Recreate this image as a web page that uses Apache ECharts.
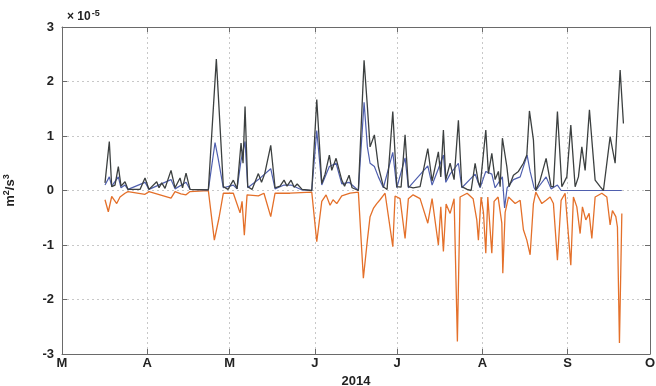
<!DOCTYPE html>
<html>
<head>
<meta charset="utf-8">
<script src="https://cdn.jsdelivr.net/npm/echarts@6/dist/echarts.min.js"></script>
<style>
  html, body { margin: 0; padding: 0; background: #fff; }
  #chart { width: 656px; height: 386px; }
</style>
</head>
<body>
<div id="chart"></div>
<script>
// x = days since 1 Mar 2014, values in units of 1e-5 m^2/s^3
var monthStart = [0, 31, 61, 92, 122, 153, 184, 214];
var monthLabels = ['M', 'A', 'M', 'J', 'J', 'A', 'S', 'O'];

var blackDay = [15.65, 17.22, 18.09, 19.29, 20.5, 21.48, 22.93, 24.03, 28.4, 30.21, 31.67, 34.47, 35.31, 36.29, 37.5, 39.68, 41.14, 42.96, 43.87, 45.14, 46.6, 53.26, 56.17, 58.72, 60.43, 62.36, 63.71, 65.16, 65.89, 66.62, 67.6, 69.17, 71.46, 72.62, 73.79, 75.97, 77.54, 79.36, 80.81, 81.9, 83.36, 84.5, 85.6, 87.37, 90.9, 92.72, 94.54, 95.74, 97.3, 98.18, 99.75, 101.82, 102.84, 104.48, 105.57, 107.86, 109.94, 111.14, 112.12, 113.69, 115.14, 116.96, 118.31, 120.39, 121.84, 123.41, 124.86, 126.06, 127.78, 130.32, 133.13, 134.69, 136.98, 137.86, 138.81, 139.68, 141.25, 142.7, 144.27, 145.51, 147.44, 148.9, 150.35, 151.55, 152.17, 154.24, 155.19, 156.43, 157.63, 158.83, 159.45, 160.28, 161.89, 162.72, 164.29, 166.11, 167.93, 169.17, 170.12, 171.57, 172.44, 174.01, 176.19, 177.03, 178.01, 178.85, 180.31, 181.91, 183.73, 185.18, 186.75, 187.95, 189.19, 190.39, 191.96, 192.83, 194.03, 195.85, 197.05, 199.49, 201.31, 203.13, 204.33];
var blackVal = [0.14, 0.9, 0.07, 0.1, 0.44, 0.08, 0.16, 0.02, 0.02, 0.23, 0.02, 0.16, 0.05, 0.14, 0.04, 0.37, 0.05, 0.23, 0.05, 0.32, 0.02, 0.01, 2.41, 0.07, 0.02, 0.19, 0.03, 0.87, 0.5, 1.54, 0.07, 0.02, 0.31, 0.15, 0.31, 0.83, 0.05, 0.08, 0.19, 0.08, 0.19, 0.06, 0.12, 0.02, 0.0, 1.67, 0.13, 0.3, 0.65, 0.37, 0.59, 0.19, 0.08, 0.28, 0.05, 0.0, 2.39, 1.54, 0.8, 1.02, 0.44, 0.07, 0.02, 1.45, 0.07, 0.06, 1.02, 0.07, 0.05, 0.07, 0.77, 0.17, 0.71, 0.25, 1.11, 0.2, 0.5, 0.2, 1.29, 0.07, 0.02, 0.0, 0.5, 0.15, 0.07, 1.11, 0.31, 0.68, 0.2, 0.35, 0.07, 0.96, 0.44, 0.07, 0.28, 0.35, 0.5, 0.65, 1.46, 0.93, 0.0, 0.19, 0.59, 0.35, 0.07, 0.07, 1.45, 0.07, 0.25, 1.2, 0.07, 0.25, 0.8, 0.37, 1.48, 0.93, 0.19, 0.07, 0.0, 0.99, 0.5, 2.21, 1.23];

var blueDay = [15.65, 17.22, 18.09, 20.5, 21.48, 22.93, 24.03, 30.21, 31.67, 39.68, 41.14, 45.14, 46.6, 53.26, 55.7, 56.79, 58.72, 62.36, 63.71, 65.16, 66.62, 67.6, 71.46, 75.97, 77.54, 80.81, 83.36, 87.37, 90.9, 92.72, 94.54, 97.3, 99.75, 101.82, 104.48, 107.86, 109.94, 111.14, 112.12, 113.69, 115.14, 116.96, 120.39, 121.84, 124.86, 126.06, 133.13, 134.69, 136.98, 138.81, 139.68, 141.25, 144.27, 145.51, 150.35, 152.17, 154.24, 156.43, 157.63, 160.28, 161.08, 162.0, 164.29, 166.75, 169.28, 170.37, 171.82, 172.44, 176.19, 178.0, 180.31, 181.65, 203.75];
var blueVal = [0.1, 0.25, 0.08, 0.25, 0.05, 0.1, 0.02, 0.15, 0.02, 0.2, 0.03, 0.15, 0.02, 0.01, 0.88, 0.6, 0.05, 0.1, 0.03, 0.55, 0.9, 0.05, 0.2, 0.4, 0.03, 0.1, 0.1, 0.01, 0.0, 1.1, 0.1, 0.44, 0.5, 0.12, 0.15, 0.0, 1.62, 0.8, 0.5, 0.44, 0.25, 0.05, 0.7, 0.05, 0.6, 0.05, 0.45, 0.1, 0.4, 0.65, 0.15, 0.3, 0.5, 0.05, 0.3, 0.05, 0.35, 0.3, 0.05, 0.25, -0.32, 0.05, 0.2, 0.25, 0.65, 0.35, 0.05, 0.0, 0.25, 0.03, 0.1, 0.0, 0.0];

var orangeDay = [15.65, 16.85, 18.09, 19.91, 21.11, 22.93, 24.03, 30.21, 31.67, 39.68, 41.14, 43.3, 45.14, 46.6, 53.26, 55.44, 57.15, 58.72, 62.36, 64.8, 65.53, 66.36, 67.35, 71.46, 73.5, 75.97, 77.54, 83.0, 90.9, 92.72, 94.54, 96.11, 97.56, 98.65, 100.0, 101.82, 104.84, 107.86, 109.68, 111.14, 112.12, 113.32, 114.56, 115.76, 117.58, 120.39, 121.22, 123.04, 124.86, 126.06, 127.78, 130.32, 133.13, 134.69, 136.98, 137.86, 138.81, 139.79, 141.25, 142.7, 143.9, 144.88, 147.44, 149.62, 150.96, 151.55, 152.53, 153.38, 154.24, 154.97, 156.43, 157.26, 158.72, 160.07, 160.43, 161.28, 162.5, 164.93, 166.75, 167.93, 169.17, 170.37, 171.57, 172.44, 174.63, 176.19, 177.65, 178.85, 180.31, 181.65, 183.1, 185.18, 186.13, 187.37, 188.57, 189.41, 190.64, 191.84, 192.83, 194.03, 196.47, 198.29, 199.49, 200.33, 201.56, 202.15, 202.88, 203.75];
var orangeVal = [-0.17, -0.39, -0.11, -0.24, -0.12, -0.05, -0.02, -0.07, -0.02, -0.14, -0.02, -0.06, -0.08, -0.02, 0.0, -0.91, -0.5, -0.05, -0.05, -0.41, -0.2, -0.82, -0.08, -0.1, -0.05, -0.48, -0.05, -0.05, -0.03, -0.94, -0.2, -0.08, -0.27, -0.17, -0.24, -0.1, -0.05, -0.03, -1.61, -0.91, -0.48, -0.33, -0.24, -0.17, -0.05, -1.03, -0.1, -0.15, -0.88, -0.15, -0.08, -0.15, -0.6, -0.15, -1.0, -0.3, -1.12, -0.25, -0.42, -0.15, -2.77, -0.12, -0.05, -0.15, -0.54, -0.91, -0.12, -0.4, -1.15, -0.12, -1.15, -0.2, -0.12, -0.6, -1.52, -0.4, -0.12, -0.24, -0.18, -0.72, -0.91, -1.18, -0.24, -0.03, -0.24, -0.18, -0.12, -0.24, -1.28, -0.18, -0.05, -1.37, -0.12, -0.3, -0.79, -0.3, -0.54, -0.42, -0.88, -0.12, -0.05, -0.12, -0.63, -0.37, -0.48, -0.67, -2.8, -0.42];

function zip(xs, ys) {
  var out = [];
  for (var i = 0; i < xs.length; i++) out.push([xs[i], ys[i]]);
  return out;
}

var chart = echarts.init(document.getElementById('chart'));
var txt = '#222';
var boxColor = '#6a6a6a';
var font = 'Liberation Sans, Arial, sans-serif';

var option = {
  animation: false,
  grid: { left: 62, right: 6, top: 27, bottom: 32, outerBoundsMode: 'none', containLabel: false },
  graphic: [{
    type: 'text',
    left: 67,
    top: 9,
    style: {
      text: '× 10{s|-5}',
      fill: txt,
      font: 'bold 12px ' + font,
      rich: { s: { fontSize: 9, fontWeight: 'bold', fill: txt, verticalAlign: 'top', padding: [0, 0, 7, 1] } }
    }
  }],
  xAxis: [{
    type: 'value',
    min: 0,
    max: 214,
    name: '2014',
    nameLocation: 'middle',
    nameGap: 20,
    nameTextStyle: { color: txt, fontSize: 13, fontWeight: 'bold', fontFamily: font },
    axisLine: { onZero: false, lineStyle: { color: boxColor, width: 1 } },
    axisTick: { inside: true, length: 5, customValues: monthStart, lineStyle: { color: boxColor } },
    axisLabel: {
      customValues: monthStart,
      color: txt, fontSize: 13, fontWeight: 'bold', fontFamily: font, margin: 3,
      formatter: function (v) { return monthLabels[monthStart.indexOf(v)]; }
    },
    splitLine: { show: true, lineStyle: { color: '#c8c8c8', type: [2, 3], width: 1 } }
  }, {
    type: 'value',
    position: 'top',
    min: 0,
    max: 214,
    axisLine: { onZero: false, lineStyle: { color: boxColor, width: 1 } },
    axisTick: { inside: true, length: 5, customValues: monthStart, lineStyle: { color: boxColor } },
    axisLabel: { show: false },
    splitLine: { show: false }
  }],
  yAxis: [{
    type: 'value',
    min: -3,
    max: 3,
    interval: 1,
    name: 'm{s|2}/s{s|3}',
    nameLocation: 'middle',
    nameRotate: 90,
    nameGap: 44,
    nameTextStyle: {
      color: txt, fontSize: 13, fontWeight: 'bold', fontFamily: font,
      rich: { s: { fontSize: 9, fontWeight: 'bold', color: txt, verticalAlign: 'top', padding: [0, 0, 7, 0] } }
    },
    axisLine: { show: true, onZero: false, lineStyle: { color: boxColor, width: 1 } },
    axisTick: { show: true, inside: true, length: 5, lineStyle: { color: boxColor } },
    axisLabel: { color: txt, fontSize: 13, fontWeight: 'bold', fontFamily: font, margin: 8 },
    splitLine: { show: true, lineStyle: { color: '#c8c8c8', type: [2, 3], width: 1 } }
  }, {
    type: 'value',
    position: 'right',
    min: -3,
    max: 3,
    interval: 1,
    axisLine: { show: true, onZero: false, lineStyle: { color: boxColor, width: 1 } },
    axisTick: { show: true, inside: true, length: 5, lineStyle: { color: boxColor } },
    axisLabel: { show: false },
    splitLine: { show: false }
  }],
  series: [{
    name: 'negative',
    type: 'line',
    data: zip(orangeDay, orangeVal),
    showSymbol: false,
    lineStyle: { color: '#e4702a', width: 1.3 },
    z: 2
  }, {
    name: 'blue',
    type: 'line',
    data: zip(blueDay, blueVal),
    showSymbol: false,
    lineStyle: { color: '#4f5fae', width: 1.2 },
    z: 3
  }, {
    name: 'total',
    type: 'line',
    data: zip(blackDay, blackVal),
    showSymbol: false,
    lineStyle: { color: '#3c4040', width: 1.3 },
    z: 4
  }]
};

chart.setOption(option);
</script>
</body>
</html>
